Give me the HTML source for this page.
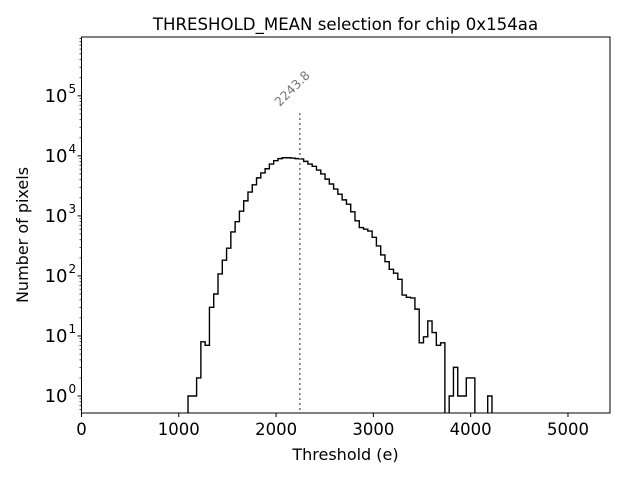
<!DOCTYPE html>
<html><head><meta charset="utf-8"><style>
body{margin:0;background:#fff}
svg{display:block;font-family:"DejaVu Sans","Liberation Sans",sans-serif}
</style></head><body>
<svg id="chart" width="640" height="480" viewBox="0 0 640 480">
<rect width="640" height="480" fill="#fff"/>
<text x="345.5" y="30" font-size="16.6" text-anchor="middle">THRESHOLD_MEAN selection for chip 0x154aa</text>
<g id="xticks"></g><g id="yticks"></g>
<path id="hist" fill="none" stroke="#000" stroke-width="1.4"/>
<line id="meanline" stroke="#777" stroke-width="1.6" stroke-dasharray="2,3"/>
<text id="meanlabel" font-size="12.5" fill="#777"></text>
<rect x="81.5" y="37" width="528.5" height="376" fill="none" stroke="#000" stroke-width="1"/>
<text x="345.5" y="460" font-size="16" text-anchor="middle">Threshold (e)</text>
<text transform="translate(28,235) rotate(-90)" font-size="16" text-anchor="middle">Number of pixels</text>
</svg>
<script>
const binStart = 1095;
const binWidth = 44;
const counts = [1,1,2,8,7,30,50,108,183,290,540,800,1200,1780,2500,3300,4300,5200,6100,7300,8300,9000,9300,9300,9200,9000,8900,8100,7300,6700,5800,5000,4100,3400,2800,2300,1850,1570,1170,830,640,600,560,440,316,224,173,129,111,88,48,44,43,28,7.7,9.7,17.8,11.4,7,7.7,0,1,3,1,1,2,2,0,0,0,1];
const xTicks = [0,1000,2000,3000,4000,5000];
const yTickExps = [0,1,2,3,4,5];
const meanValue = 2243.8;
const NS="http://www.w3.org/2000/svg";
const X0=81.5, X1=610, Y0=413, Y1=37;
const xmin=0, xmax=5432, lmin=-0.283, lmax=5.98;
const xs=v=>X0+(v-xmin)/(xmax-xmin)*(X1-X0);
const ys=v=>Y0-(Math.log10(v)-lmin)/(lmax-lmin)*(Y0-Y1);
function mk(tag,attrs,parent){const e=document.createElementNS(NS,tag);for(const k in attrs)e.setAttribute(k,attrs[k]);parent.appendChild(e);return e;}
const xg=document.getElementById('xticks');
xTicks.forEach(t=>{const x=xs(t);
 const l=mk('line',{x1:x,x2:x,y1:Y0,y2:Y0+4,stroke:'#000'},xg);
 
 
 const tx=mk('text',{x:x,y:Y0+22,'font-size':16.5,'text-anchor':'middle'},xg);tx.textContent=t;
 
 
});
const yg=document.getElementById('yticks');
for(let e=-1;e<=6;e++){for(let m=1;m<10;m++){const v=m*Math.pow(10,e);const lv=Math.log10(v);if(lv<lmin||lv>lmax)continue;const y=ys(v);
 const l=mk('line',{x1:X0-(m===1?4:2),x2:X0,y1:y,y2:y,stroke:'#000','stroke-width':m===1?1:0.7},yg);
 
 
}}
yTickExps.forEach(e=>{const y=ys(Math.pow(10,e));
 const t=mk('text',{x:X0-14,y:y+6,'font-size':18,'text-anchor':'end'},yg);t.textContent='10';
 
 
 const s=mk('text',{x:X0-13,y:y-3,'font-size':12},yg);s.textContent=e;
 
 
});
let d='';
counts.forEach((c,i)=>{if(c<=0)return;const xa=xs(binStart+i*binWidth),xb=xs(binStart+(i+1)*binWidth),y=ys(c);
 const prev=i>0?counts[i-1]:0;
 if(prev>0){d+=` L${xa},${y}`;}else{d+=` M${xa},${Y0} L${xa},${y}`;}
 d+=` L${xb},${y}`;
 const next=i<counts.length-1?counts[i+1]:0;
 if(next<=0)d+=` L${xb},${Y0}`;
});
document.getElementById('hist').setAttribute('d',d.trim());
const mx=xs(meanValue);
const ml=document.getElementById('meanline');
ml.setAttribute('x1',mx);ml.setAttribute('x2',mx);ml.setAttribute('y1',113);ml.setAttribute('y2',Y0);
const mt=document.getElementById('meanlabel');
mt.textContent=meanValue.toFixed(1);
mt.setAttribute('transform',`translate(${mx-20},${107}) rotate(-45)`);
</script>
</body></html>
